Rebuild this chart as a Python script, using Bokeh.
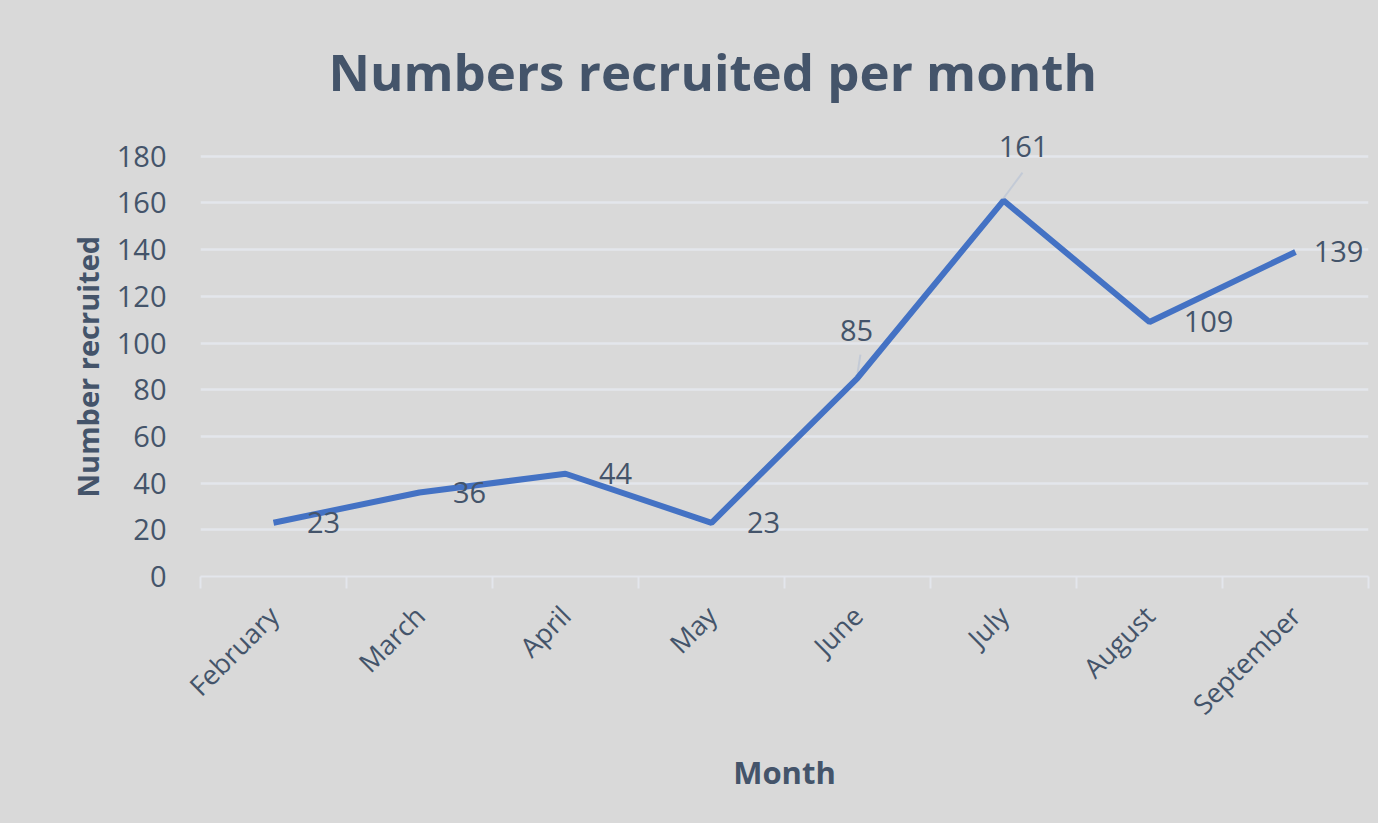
from bokeh.plotting import figure
from bokeh.models import FixedTicker, Range1d, Title, ColumnDataSource, LabelSet
from bokeh.core.properties import value
from bokeh.embed import file_html
from bokeh.resources import INLINE
import math

months = ["February", "March", "April", "May", "June", "July", "August", "September"]
recruited = [23, 36, 44, 23, 85, 161, 109, 139]
y_ticks = [0, 20, 40, 60, 80, 100, 120, 140, 160, 180]

# label placement (pixels) relative to each point
label_dx = [50, 50, 50, 52, -1, 20, 59, 43]
label_dy = [0, 0, 0, 0, 48, 54, 0, 0]

TEXT = "#44546a"
BG = "#d9d9d9"
GRID = "#e3e6ec"
FONT = "Open Sans"

xs = [i + 0.5 for i in range(len(months))]

# y range extends past the top tick so the label above July stays visible
p = figure(width=1378, height=823, output_backend="svg", toolbar_location=None,
           x_range=Range1d(0, len(months)), y_range=Range1d(0, 200))
p.min_border_left = 200
p.min_border_right = 10
p.min_border_top = 109
p.min_border_bottom = 247
p.background_fill_color = BG
p.border_fill_color = BG
p.outline_line_color = None
p.styles = {"background-color": BG}

t = Title(text="Numbers recruited per month", align="left", offset=128,
          text_font=FONT, text_font_size="51px", text_font_style="bold",
          text_color=TEXT, standoff=8)
p.add_layout(t, "above")

ylab = Title(text="Number recruited", align="left", offset=79,
             text_font=FONT, text_font_size="29px", text_font_style="bold",
             text_color=TEXT, standoff=14)
p.add_layout(ylab, "left")

# x axis
p.xaxis.ticker = FixedTicker(ticks=xs, minor_ticks=list(range(len(months) + 1)))
p.xaxis.major_label_overrides = {x: m for x, m in zip(xs, months)}
p.xaxis.major_label_orientation = math.pi / 4
p.xaxis.major_tick_line_color = None
p.xaxis.minor_tick_line_color = GRID
p.xaxis.minor_tick_line_width = 2
p.xaxis.minor_tick_out = 12
p.xaxis.minor_tick_in = 0
p.xaxis.axis_line_color = GRID
p.xaxis.axis_line_width = 2
p.xaxis.major_label_text_font = FONT
p.xaxis.major_label_text_font_size = "27px"
p.xaxis.major_label_text_color = TEXT
p.xaxis.major_label_standoff = 22
p.xaxis.axis_label = "Month"
p.xaxis.axis_label_text_font = FONT
p.xaxis.axis_label_text_font_size = "31px"
p.xaxis.axis_label_text_font_style = "bold"
p.xaxis.axis_label_text_color = TEXT
p.xaxis.axis_label_standoff = 13

# y axis
p.yaxis.ticker = FixedTicker(ticks=y_ticks)
p.yaxis.axis_line_color = None
p.yaxis.major_tick_line_color = None
p.yaxis.minor_tick_line_color = None
p.yaxis.major_label_text_font = FONT
p.yaxis.major_label_text_font_size = "29px"
p.yaxis.major_label_text_color = TEXT
p.yaxis.major_label_standoff = 28

p.xgrid.grid_line_color = None
p.ygrid.ticker = FixedTicker(ticks=y_ticks[1:])
p.ygrid.grid_line_color = GRID
p.ygrid.grid_line_width = 2.5

src = ColumnDataSource(dict(x=xs, y=recruited, lab=[str(v) for v in recruited],
                            dx=label_dx, dy=label_dy))

# leader lines for the two labels placed above
p.segment(x0=[xs[4], xs[5]], y0=[recruited[4] + 2, recruited[5] + 1],
          x1=[xs[4] + 0.02, xs[5] + 0.13], y1=[recruited[4] + 10, recruited[5] + 12],
          line_color="#c3cad6", line_width=2)

p.line("x", "y", source=src, line_color="#4472c4", line_width=6)

labels = LabelSet(x="x", y="y", text="lab", source=src, x_offset="dx", y_offset="dy",
                  text_font=value(FONT), text_font_size=value("29px"), text_color=TEXT,
                  text_align="center", text_baseline="middle")
p.add_layout(labels)

open("out.html", "w").write(file_html(p, INLINE))
